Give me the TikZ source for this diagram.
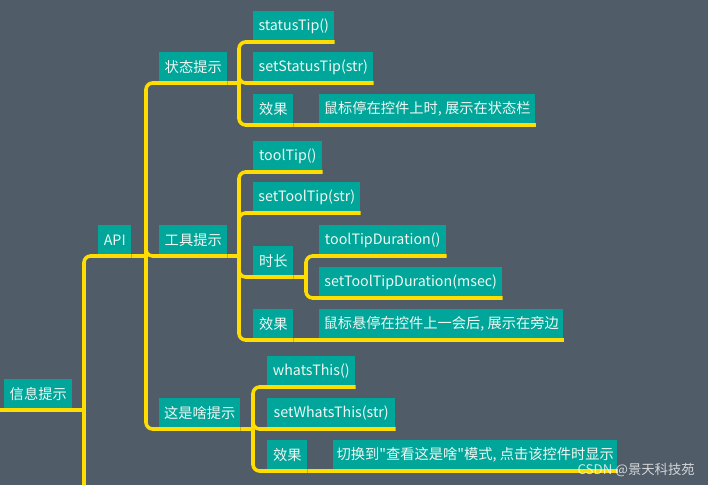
\documentclass[tikz,border=0pt]{standalone}
\usepackage{fontspec}
\newfontfamily\cjkplain{Noto Sans CJK SC}
\definecolor{bgc}{RGB}{80,92,104}
\definecolor{tealc}{RGB}{0,166,153}
\definecolor{yelc}{RGB}{255,221,0}
\definecolor{txtc}{RGB}{240,248,244}
\tikzset{
  tbox/.style={fill=tealc, text=txtc, inner sep=0pt, anchor=south west,
    minimum height=31*0.75pt, font=\cjkplain\fontsize{10.7}{12}\selectfont},
  conn/.style={draw=yelc, line width=2.7pt, rounded corners=5pt},
  straight/.style={draw=yelc, line width=2.7pt},
}
\begin{document}
\begin{tikzpicture}[x=0.75pt,y=-0.75pt]
\path[use as bounding box, fill=bgc] (0,0) rectangle (708,485);
\begin{scope}
\clip (0,0) rectangle (708,485);
% junctions
\coordinate (lft) at (-10,410);
\coordinate (j0) at (84,410);
\coordinate (off) at (84,520);
\coordinate (j1) at (146,256);
\coordinate (ja) at (239,83);
\coordinate (jb) at (239,256);
\coordinate (jc) at (253,429);
\coordinate (jd) at (306,277);
% nodes
\node[tbox, minimum width=68*0.75pt] (root) at (4,410) {信息提示};
\node[tbox, minimum width=33*0.75pt] (api) at (98,256) {API};
\node[tbox, minimum width=68*0.75pt] (s1) at (159,83) {状态提示};
\node[tbox, minimum width=68*0.75pt] (s2) at (159,256) {工具提示};
\node[tbox, minimum width=81*0.75pt] (s3) at (159,429) {这是啥提示};
\node[tbox, minimum width=81*0.75pt] (a1) at (253,42) {statusTip()};
\node[tbox, minimum width=120*0.75pt] (a2) at (253,83) {setStatusTip(str)};
\node[tbox, minimum width=40*0.75pt] (a3) at (253,125) {效果};
\node[tbox, minimum width=216*0.75pt] (a4) at (319,125) {鼠标停在控件上时, 展示在状态栏};
\node[tbox, minimum width=69*0.75pt] (b1) at (253,172) {toolTip()};
\node[tbox, minimum width=107*0.75pt] (b2) at (253,213) {setToolTip(str)};
\node[tbox, minimum width=40*0.75pt] (b3) at (253,277) {时长};
\node[tbox, minimum width=127*0.75pt] (b4) at (319,256) {toolTipDuration()};
\node[tbox, minimum width=183*0.75pt] (b5) at (319,298) {setToolTipDuration(msec)};
\node[tbox, minimum width=40*0.75pt] (b6) at (253,340) {效果};
\node[tbox, minimum width=244*0.75pt] (b7) at (319,340) {鼠标悬停在控件上一会后, 展示在旁边};
\node[tbox, minimum width=88*0.75pt] (c1) at (267,387) {whatsThis()};
\node[tbox, minimum width=128*0.75pt] (c2) at (267,429) {setWhatsThis(str)};
\node[tbox, minimum width=40*0.75pt] (c3) at (267,471) {效果};
\node[tbox, minimum width=284*0.75pt] (c4) at (333,471) {切换到"查看这是啥"模式, 点击该控件时显示};
% connectors
\draw[straight] (lft) -- (root.south east) -- (j0);
\draw[straight] (j0) -- (off);
\draw[conn] (j0) |- (api.south east);
\draw[straight] (api.south east) -- (j1);
\draw[conn] (j1) |- (s1.south east);
\draw[conn] (j1) |- (s2.south east);
\draw[conn] (j1) |- (s3.south east);
% group a
\draw[straight] (s1.south east) -- (ja);
\draw[conn] (ja) |- (a1.south east);
\draw[conn] (ja) |- (a2.south east);
\draw[conn] (ja) |- (a3.south east);
\draw[straight] (a3.south east) -- (a4.south east);
% group b
\draw[straight] (s2.south east) -- (jb);
\draw[conn] (jb) |- (b1.south east);
\draw[conn] (jb) |- (b2.south east);
\draw[conn] (jb) |- (b3.south east);
\draw[straight] (b3.south east) -- (jd);
\draw[conn] (jd) |- (b4.south east);
\draw[conn] (jd) |- (b5.south east);
\draw[conn] (jb) |- (b6.south east);
\draw[straight] (b6.south east) -- (b7.south east);
% group c
\draw[straight] (s3.south east) -- (jc);
\draw[conn] (jc) |- (c1.south east);
\draw[conn] (jc) |- (c2.south east);
\draw[conn] (jc) |- (c3.south east);
\draw[straight] (c3.south east) -- (c4.south east);
% watermark
\node[anchor=east, text=white, opacity=0.75, inner sep=0pt, font=\cjkplain\fontsize{10}{11}\selectfont] (wm) at (695,470) {CSDN @景天科技苑};
\end{scope}
\end{tikzpicture}
\end{document}
